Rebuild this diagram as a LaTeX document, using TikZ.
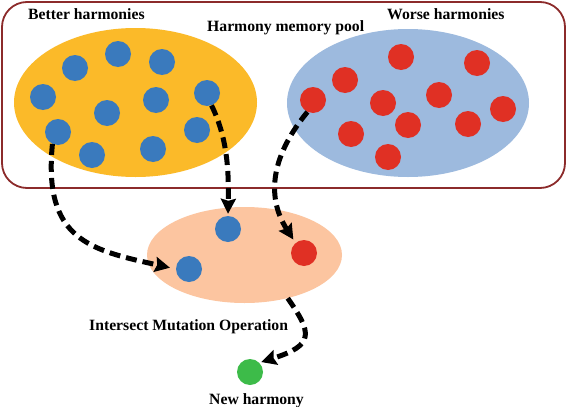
\documentclass[tikz,border=0pt]{standalone}
\usepackage{fontspec}
\setmainfont{Liberation Serif}
\usetikzlibrary{arrows.meta,shapes.geometric}
\definecolor{frameC}{RGB}{140,43,43}
\definecolor{orangeC}{RGB}{251,186,41}
\definecolor{lblueC}{RGB}{157,186,222}
\definecolor{peachC}{RGB}{252,197,160}
\definecolor{dblueC}{RGB}{58,122,189}
\definecolor{redC}{RGB}{224,48,36}
\definecolor{greenC}{RGB}{61,187,73}
\tikzset{
  blob/.style={ellipse, inner sep=0pt, draw=none},
  bdot/.style={circle, fill=dblueC, minimum size=26pt, inner sep=0pt},
  rdot/.style={circle, fill=redC, minimum size=26pt, inner sep=0pt},
  gdot/.style={circle, fill=greenC, minimum size=26pt, inner sep=0pt},
  lbl/.style={anchor=base west, inner sep=0pt, font=\fontsize{15.7}{18}\selectfont\bfseries},
  flow/.style={line width=5pt, dash pattern=on 11pt off 6pt,
    -{Stealth[length=15pt,width=15pt,inset=2pt]}},
}
\begin{document}
\begin{tikzpicture}[x=1pt,y=-1pt]
\useasboundingbox (0,0) rectangle (568,407);
\fill[white] (0,0) rectangle (568,407);
% frame
\draw[frameC, line width=1.8pt, rounded corners=25pt] (2,2) rectangle (565,188);
% ellipses
\node[blob, fill=orangeC, minimum width=243pt, minimum height=149pt] (better) at (135.5,102.5) {};
\node[blob, fill=lblueC, minimum width=242pt, minimum height=148pt] (worse) at (408,103) {};
\node[blob, fill=peachC, minimum width=195pt, minimum height=96pt] (mut) at (244.5,255) {};
% blue dots
\node[bdot] (b1) at (75,68) {};
\node[bdot] (b2) at (118,54) {};
\node[bdot] (b3) at (162,62) {};
\node[bdot] (b4) at (43,97) {};
\node[bdot] (b5) at (107,113) {};
\node[bdot] (b6) at (156,100) {};
\node[bdot] (b7) at (207,93) {};
\node[bdot] (b8) at (58,132) {};
\node[bdot] (b9) at (92,155) {};
\node[bdot] (b10) at (153,149) {};
\node[bdot] (b11) at (197,130) {};
% red dots
\node[rdot] (r1) at (401,57) {};
\node[rdot] (r2) at (477,63) {};
\node[rdot] (r3) at (345,80) {};
\node[rdot] (r4) at (313,100) {};
\node[rdot] (r5) at (383,103) {};
\node[rdot] (r6) at (439,95) {};
\node[rdot] (r7) at (503,109) {};
\node[rdot] (r8) at (408,125) {};
\node[rdot] (r9) at (468,124) {};
\node[rdot] (r10) at (351,134) {};
\node[rdot] (r11) at (388,157) {};
% intersect dots
\node[bdot] (t1) at (228,229) {};
\node[bdot] (t2) at (189,269) {};
\node[rdot] (t3) at (304,253) {};
\node[gdot] (g) at (250,372) {};
% labels
\node[lbl] (l1) at (28,19.5) {Better harmonies};
\node[lbl] (l2) at (207,31.5) {Harmony memory pool};
\node[lbl] (l3) at (387,19.5) {Worse harmonies};
\node[lbl] (l4) at (89,330) {Intersect Mutation Operation};
\node[lbl] (l5) at (209,404) {New harmony};
% arrows
\draw[flow, shorten >=6pt] (b8.-115) .. controls (43,240) and (90,250) .. (t2.west);
\draw[flow, shorten >=2pt] (b7.-70) .. controls (226,135) and (229,165) .. (t1.north);
\draw[flow, shorten >=4pt] (r4.-115) .. controls (268,160) and (268,200) .. (t3.130);
\draw[flow, shorten >=2pt] (mut.-45) .. controls (312,333) and (315,345) .. (g.45);
\end{tikzpicture}
\end{document}
